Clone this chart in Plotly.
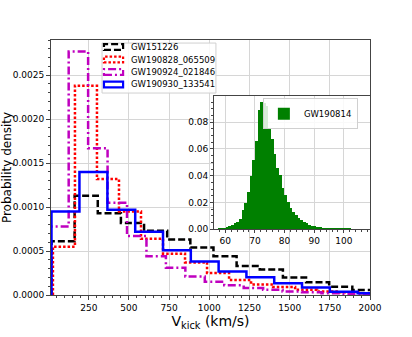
import plotly.graph_objects as go

# main histograms: bin edges (km/s) and probability densities
gw151226_edges = [18, 162, 306, 450, 594, 738, 882, 1026, 1170, 1314, 1458, 1602, 1746, 1890, 2034]
gw151226_dens = [0.00061, 0.00113, 0.00093, 0.00082, 0.00073, 0.00063, 0.00054, 0.00044,
                 0.00033, 0.00029, 0.00020, 0.000145, 0.000095, 0.000057]

gw190828_edges = [27, 164, 301, 438, 575, 712, 849, 986, 1123, 1260, 1397, 1534, 1671, 1808, 1945, 2082]
gw190828_dens = [0.00055, 0.00238, 0.00132, 0.00095, 0.00064, 0.00047, 0.00037, 0.00025,
                 0.00017, 0.00012, 0.00009, 0.00006, 0.00004, 0.00003, 0.00002]

gw190924_edges = [4, 125, 246, 367, 488, 609, 730, 851, 972, 1093, 1214, 1335, 1456, 1577,
                  1698, 1819, 1940, 2061]
gw190924_dens = [0.00078, 0.00277, 0.00167, 0.00105, 0.00067, 0.00044, 0.00031, 0.00021,
                 0.00015, 0.00011, 0.00008, 0.00006, 0.00004, 0.00003, 0.00002, 0.000015, 0.00001]

gw190930_edges = [18, 192, 366, 539, 712, 885, 1058, 1231, 1404, 1577, 1750, 1923, 2096]
gw190930_dens = [0.00095, 0.00140, 0.00097, 0.00072, 0.00051, 0.00038, 0.000266, 0.000202,
                 0.000133, 0.000084, 0.000038, 0.00002]

# inset: GW190814 histogram (bin centres, densities)
gw190814_v = [57.9, 58.8, 59.7, 60.6, 61.5, 62.4, 63.3, 64.2, 65.1, 66.0, 66.9, 67.8, 68.7,
              69.6, 70.5, 71.4, 72.3, 73.2, 74.1, 75.0, 75.9, 76.8, 77.7, 78.6, 79.5, 80.4,
              81.3, 82.2, 83.1, 84.0, 84.9, 85.8, 86.7, 87.6, 88.5, 89.4, 90.3, 91.2, 92.1,
              93.0, 93.9, 94.8, 95.7, 96.6, 97.5, 98.4, 99.3, 100.2, 101.1, 102.0]
gw190814_dens = [0.0002, 0.0005, 0.0010, 0.0018, 0.0026, 0.0033, 0.0042, 0.0055, 0.0075,
                 0.0145, 0.0195, 0.0280, 0.0395, 0.0520, 0.0660, 0.0890, 0.0950, 0.0940,
                 0.0920, 0.0745, 0.0675, 0.0560, 0.0455, 0.0405, 0.0305, 0.0255, 0.0205,
                 0.0158, 0.0125, 0.0102, 0.0082, 0.0070, 0.0053, 0.0045, 0.0033, 0.0027,
                 0.0021, 0.0016, 0.0013, 0.0011, 0.0009, 0.0007, 0.0006, 0.0005, 0.0004,
                 0.0003, 0.0003, 0.0002, 0.0002, 0.0001]


def step_xy(edges, dens):
    # outline of a step histogram (like histtype='step')
    x = [edges[0]] + list(edges) + [edges[-1]]
    y = [0] + list(dens) + [dens[-1], 0]
    return x, y


series = [
    ("GW151226", gw151226_edges, gw151226_dens, "black", "7px,3px"),
    ("GW190828_065509", gw190828_edges, gw190828_dens, "red", "2.5px,2px"),
    ("GW190924_021846", gw190924_edges, gw190924_dens, "#bf00bf", "8px,3px,2px,3px"),
    ("GW190930_133541", gw190930_edges, gw190930_dens, "blue", "solid"),
]

fig = go.Figure()
for name, edges, dens, color, dash in series:
    x, y = step_xy(edges, dens)
    fig.add_trace(go.Scatter(x=x, y=y, mode="lines", name=name, line_shape="hv",
                             line=dict(color=color, width=2.5, dash=dash),
                             xaxis="x", yaxis="y", showlegend=False))

fig.add_trace(go.Bar(x=gw190814_v, y=gw190814_dens, width=0.92, name="GW190814",
                     marker=dict(color="green", line=dict(width=0)),
                     xaxis="x2", yaxis="y2", legend="legend2"))

# compact legend for the main panel (matplotlib-like patch outlines)
shapes = [dict(type="rect", xref="paper", yref="paper", x0=0.160, x1=0.517, y0=0.792, y1=0.988,
               fillcolor="rgba(255,255,255,0.85)", line=dict(color="#d0d0d0", width=1), layer="above")]
annotations = []
row_y = [0.9725, 0.9235, 0.8745, 0.8255]
for (name, _, _, color, dash), ry in zip(series, row_y):
    shapes.append(dict(type="rect", xref="paper", yref="paper", x0=0.166, x1=0.226,
                       y0=ry - 0.0115, y1=ry + 0.0115, layer="above",
                       line=dict(color=color, width=2.2, dash=dash)))
    annotations.append(dict(text=name, xref="paper", yref="paper", x=0.2445, y=ry,
                            xanchor="left", yanchor="middle", showarrow=False,
                            font=dict(size=8.5)))

font = "DejaVu Sans"
axcol = "#444444"
gridcol = "#d6d6d6"

fig.update_layout(
    width=412, height=337,
    margin=dict(l=51, r=42, t=40, b=42),
    paper_bgcolor="white", plot_bgcolor="white",
    font=dict(family=font, size=9, color="black"),
    bargap=0,
    shapes=shapes, annotations=annotations,
    xaxis=dict(domain=[0, 1], range=[15, 2000], tickvals=[250, 500, 750, 1000, 1250, 1500, 1750, 2000],
               showgrid=True, gridcolor=gridcol, zeroline=False, automargin=False,
               showline=True, mirror=True, linecolor=axcol, linewidth=1,
               ticks="outside", ticklen=4, tickcolor=axcol,
               minor=dict(ticks="outside", dtick=50, ticklen=2, tickcolor=axcol),
               title=dict(text="V<sub>kick</sub> (km/s)", font=dict(size=14), standoff=3)),
    yaxis=dict(domain=[0, 1], range=[0, 0.0029], tickvals=[0, 0.0005, 0.001, 0.0015, 0.002, 0.0025],
               tickformat=".4f", showgrid=True, gridcolor=gridcol, zeroline=False, automargin=False,
               showline=True, mirror=True, linecolor=axcol, linewidth=1,
               ticks="outside", ticklen=4, tickcolor=axcol,
               minor=dict(ticks="outside", dtick=0.0001, ticklen=2, tickcolor=axcol),
               title=dict(text="Probability density", font=dict(size=12), standoff=2)),
    xaxis2=dict(domain=[0.511, 1.0], anchor="y2", range=[56.2, 108.8], tickvals=[60, 70, 80, 90, 100],
                showgrid=True, gridcolor=gridcol, zeroline=False, automargin=False,
                showline=True, mirror=True, linecolor=axcol, linewidth=1,
                ticks="outside", ticklen=3, tickcolor=axcol,
                minor=dict(ticks="outside", dtick=2, ticklen=2, tickcolor=axcol)),
    yaxis2=dict(domain=[0.258, 0.780], anchor="x2", range=[0, 0.0995], tickvals=[0, 0.02, 0.04, 0.06, 0.08],
                tickformat=".2f", showgrid=True, gridcolor=gridcol, zeroline=False, automargin=False,
                showline=True, mirror=True, linecolor=axcol, linewidth=1,
                ticks="outside", ticklen=3, tickcolor=axcol,
                minor=dict(ticks="outside", dtick=0.005, ticklen=2, tickcolor=axcol)),
    legend2=dict(x=0.962, y=0.772, xanchor="right", yanchor="top", bgcolor="rgba(255,255,255,0.85)",
                 bordercolor="#d0d0d0", borderwidth=1, font=dict(size=8.5), itemwidth=30),
)

# drop the default 8px page margin so the figure sits at the window's corner
fig.write_html("out.html", config={"displayModeBar": False},
               post_script="document.body.style.margin='0';")
